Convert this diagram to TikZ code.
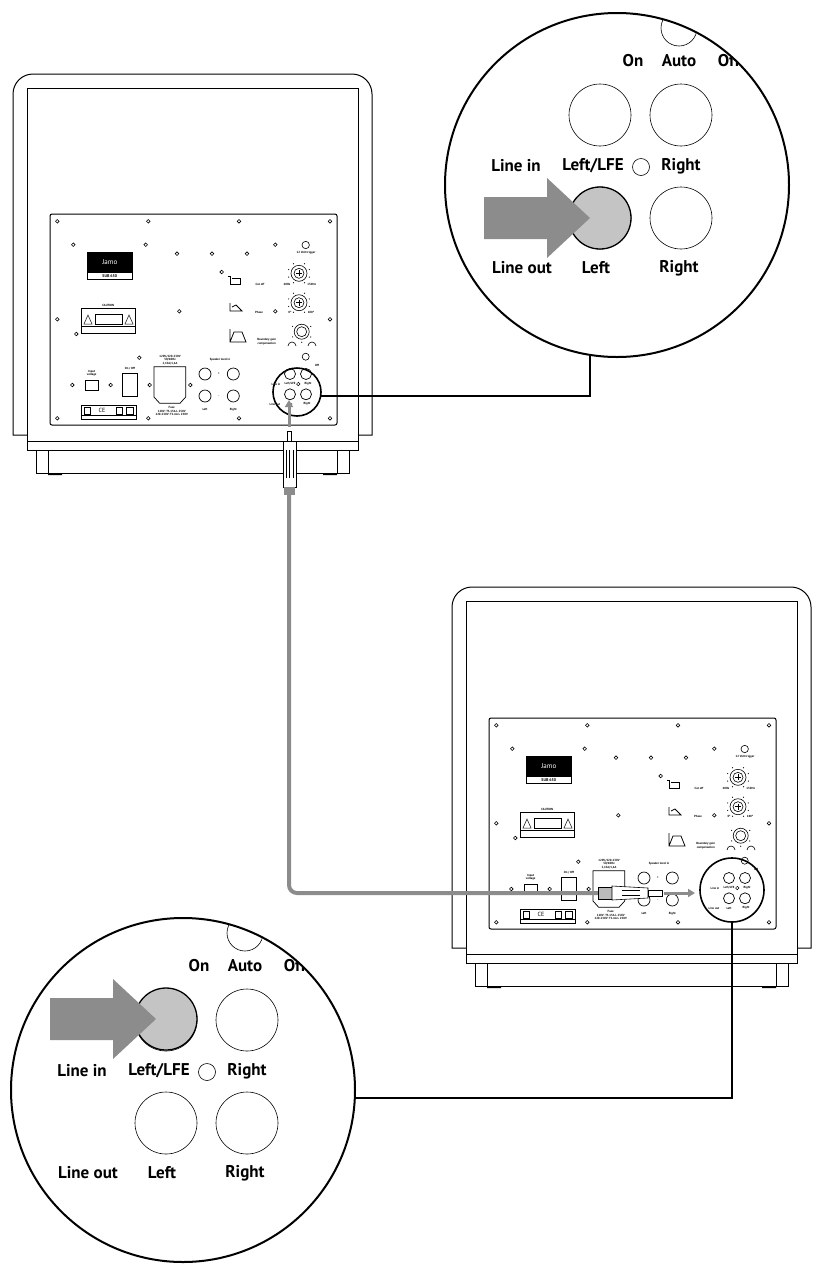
\documentclass[tikz,border=0pt]{standalone}
\usepackage{fontspec}
\setmainfont{PT Sans}
\usetikzlibrary{arrows.meta}
\definecolor{arrowgray}{HTML}{8C8C8C}
\definecolor{jackgray}{HTML}{C4C4C4}
\tikzset{
  screw/.style={draw,line width=0.6pt,fill=white},
  tiny/.style={font=\fontsize{3}{3.5}\selectfont\bfseries,inner sep=0pt,align=center},
  biglbl/.style={font=\fontsize{17}{19}\selectfont\bfseries,inner sep=0pt},
  bigjack/.style={draw,line width=0.6pt,fill=white},
  cab/.style={line width=1pt},
  lead/.style={line width=1.6pt},
  cable/.style={line width=4pt,arrowgray,rounded corners=8pt},
}
\newcommand\subpanel[1]{%
\begin{scope}[shift={#1}]
  \draw[line width=1pt,rounded corners=2pt,fill=white] (0,0) rectangle (287,211);
  \foreach \p in {(7.3,7.3),(98.3,7.3),(189,7.3),(280,7.3),(23.3,30.7),(95.7,30.7),(225.3,30.7),
    (127,39.7),(162,39.7),(197,39.7),(7.3,105.3),(129.3,97.3),(225.3,97.3),(280,105.3),(26.3,120),
    (89.3,143.7),(22.3,171),(60.7,171),(99.7,171),(140.3,171),(7.3,204.3),(98.3,204.3),(189,204.3),(280,204.3),(171.7,58)}
    \draw[screw] \p circle (1.8);
  % jamo label
  \draw[line width=0.7pt,fill=black] (37.3,38.7) rectangle (82.3,58.3);
  \draw[line width=0.7pt] (37.3,58.3) rectangle (82.3,65);
  \node[text=white,font=\fontsize{7}{8}\selectfont,inner sep=0pt] (jm) at (59.8,48.5) {Jamo};
  \node[tiny,font=\fontsize{4}{5}\selectfont\bfseries] (sb) at (59.8,61.7) {SUB 650};
  % 12V trigger
  \draw[line width=0.6pt] (255.7,31) circle (3.7);
  \node[tiny] (tv) at (256,38.7) {12 Volt trigger};
  % knobs
  \foreach \y in {59.3,88.7}{
    \draw[line width=0.6pt] (249,\y) circle (8);
    \draw[line width=0.6pt] (249,\y) circle (5);
    \draw[line width=0.5pt] (246,\y) -- (252,\y) (249,\y-3) -- (249,\y+3);
    \foreach \a in {-60,-20,20,60,120,160,200,240} \fill (249,\y)++(\a:11) circle (0.6);
  }
  \draw[line width=0.6pt] (251.7,117.7) circle (7.5);
  \draw[line width=0.6pt] (251.7,117.7) circle (5);
  \foreach \a in {-30,30,150,210,90} \fill (251.7,117.7)++(\a:10.5) circle (0.6);
  \draw[line width=0.6pt] (238,132) arc (180:360:4) (258,132) arc (180:360:4);
  \node[tiny] (f1) at (237,70) {40Hz};
  \node[tiny] (f2) at (261.7,70) {150Hz};
  \node[tiny] (co) at (210,70) {Cut off};
  \node[tiny] (ph) at (209,98.3) {Phase};
  \node[tiny] (p0) at (240,98.3) {0°};
  \node[tiny] (p1) at (261,98.3) {180°};
  \node[tiny] (bg) at (216.7,127.7) {Boundary gain\\compensation};
  % graph icons
  \draw[line width=0.8pt] (178,62) -- (180,62) -- (180,70) -- (190,70) -- (190,64) -- (182,64);
  \draw[line width=0.8pt] (180,89) -- (180,97) -- (192,97) -- (186,91) -- (182,93);
  \draw[line width=0.8pt] (180,115) -- (180,128) -- (196,128) -- (192,118) -- (184,118) -- (180,128);
  % caution label
  \node[tiny] (ca) at (58.3,91) {CAUTION};
  \draw[line width=0.5pt] (31.7,94.3) rectangle (85,119.3);
  \draw[line width=0.4pt] (31.7,112) -- (85,112) (45,100) rectangle (72,110);
  \draw[line width=0.5pt] (34,110) -- (38,101) -- (42,110) -- cycle (75,110) -- (79,101) -- (83,110) -- cycle;
  % input voltage
  \node[tiny] (iv) at (41.7,159.3) {Input\\voltage};
  \draw[line width=0.7pt] (35,166) rectangle (48.3,176.7);
  \node[tiny] (oo) at (80,155) {On / Off};
  \draw[line width=0.7pt] (72.7,159.3) rectangle (87.3,182.7);
  % IEC
  \node[tiny] (iec) at (120,146) {120V/220-230V~\\50/60Hz\\2,15A/1,6A};
  \draw[line width=0.7pt] (104,152.7) -- (135.7,152.7) -- (135.7,183) -- (130,189.3) -- (109.7,189.3) -- (104,183) -- cycle;
  \node[tiny] (fu) at (121.7,197) {Fuse\\120V: T3.15A L 250V\\220-230V: T1.6A L 250V};
  % speaker level in
  \node[tiny] (sl) at (170,146) {Speaker level in};
  \foreach \p in {(155,160),(183.3,160),(155,182),(183.3,182)} \draw[line width=0.7pt] \p circle (6);
  \node[tiny] at (169,160) {+};
  \node[tiny] at (169,182) {-};
  \node[tiny] (sll) at (155,195.3) {Left};
  \node[tiny] (slr) at (183.3,195.3) {Right};
  % line jacks
  \draw[line width=0.6pt] (255.7,142.7) circle (3.5);
  \node[tiny] at (267,151) {Off};
  \foreach \p in {(240,160),(256,160),(240,180.3),(256,180.3)} \draw[line width=0.7pt] \p circle (5.5);
  \draw[line width=0.5pt] (248.3,170) circle (1.7);
  \node[tiny] at (226,170) {Line in};
  \node[tiny] at (240,170) {Left/LFE};
  \node[tiny] at (258,170) {Right};
  \node[tiny] at (225,190) {Line out};
  \node[tiny] at (240,190) {Left};
  \node[tiny] at (257,190) {Right};
  % regulatory
  \draw[line width=0.7pt] (31,191) rectangle (86.7,205.3);
  \draw[line width=0.5pt] (31,201.5) -- (86.7,201.5);
  \node[tiny,font=\fontsize{6}{6}\selectfont] at (52,196) {CE};
  \draw[line width=0.5pt] (34,193) rectangle (40,200) (66,193) rectangle (72,200) (76,193) rectangle (83,200);
\end{scope}}
\newcommand\subcab[1]{%
\begin{scope}[shift={#1}]
  \draw[cab] (358,435) -- (372,435) {[rounded corners=20pt] -- (372,74) -- (13,74)} -- (13,435) -- (27,435);
  \draw[cab] (27,88) rectangle (358,441);
  \draw[cab] (27,441) rectangle (358,450);
  \draw[cab] (36,450) rectangle (349,473);
  \draw[cab] (48,450) -- (48,473) (337,450) -- (337,473);
  \fill (48,473) rectangle (62,475) (323,473) rectangle (337,475);
\end{scope}}
\newcommand\zoomcircle[2]{% center, y of gray jack
\begin{scope}[shift={#1}]
  \draw[line width=2pt,fill=white] (0,0) circle (172);
  \begin{scope}
    \clip (0,0) circle (171);
    \draw[line width=0.6pt] (62,-157) circle (18);
    \node[biglbl] at (16,-124) {On};
    \node[biglbl] at (62,-124) {Auto};
    \node[biglbl] at (112,-124) {Off};
  \end{scope}
  \draw[bigjack] (-17,-70) circle (31);
  \draw[bigjack] (64,-70) circle (31);
  \draw[bigjack] (-17,33) circle (31);
  \draw[bigjack] (64,33) circle (31);
  \draw[line width=0.6pt] (24,-18) circle (8.5);
  \node[biglbl] at (-101,-19) {Line in};
  \node[biglbl] at (-24,-19) {Left/LFE};
  \node[biglbl] at (64,-19) {Right};
  \node[biglbl] at (-95,83) {Line out};
  \node[biglbl] at (-21,83) {Left};
  \node[biglbl] at (62,83) {Right};
  \draw[line width=1.3pt,fill=jackgray] (-17,#2) circle (31);
  \fill[arrowgray] (-133,#2-21) -- (-70,#2-21) -- (-70,#2-40) -- (-27,#2) -- (-70,#2+40) -- (-70,#2+21) -- (-133,#2+21) -- cycle;
\end{scope}}
\begin{document}
\begin{tikzpicture}[x=1pt,y=-1pt]
\useasboundingbox (0,0) rectangle (826,1267);
% top speaker
\subcab{(0,0)}
\subpanel{(50,214)}
\draw[lead] (297,392) circle (24);
% bottom speaker
\subcab{(439,513)}
\subpanel{(489,718)}
\draw[lead] (732,890) circle (32);
% cable
\draw[cable] (289,495) -- (289,893) -- (598,893);
% top plug
\draw[line width=3pt,arrowgray,-{Triangle[width=8pt,length=7pt]}] (289,427) -- (289,400);
\draw[line width=0.6pt,fill=white] (287,431) rectangle (291,441);
\draw[line width=0.6pt,fill=white] (283,441) rectangle (296,487);
\draw[line width=0.5pt] (286,450) -- (286,478) (289,450) -- (289,478) (293,450) -- (293,478);
\fill[arrowgray] (284,487) rectangle (295,495);
% bottom plug
\draw[line width=0.6pt,fill=arrowgray!60] (598,887) rectangle (612,899);
\draw[line width=0.6pt,fill=white] (612,886) -- (648,888) -- (648,898) -- (612,900) -- cycle;
\draw[line width=0.5pt] (622,890.5) -- (640,890.5) (622,895.5) -- (640,895.5);
\draw[line width=0.6pt,fill=white] (648,890) rectangle (662,896);
\draw[line width=3pt,arrowgray,-{Triangle[width=8pt,length=7pt]}] (664,893) -- (695,893);
% zoom circles
\zoomcircle{(617,185)}{33}
\zoomcircle{(183,1090)}{-71}
% leaders
\coordinate (t1) at (590,396);
\draw[lead] (321,396) -- (t1) -- (590,355);
\coordinate (b1) at (732,1098);
\draw[lead] (732,922) -- (b1) -- (355,1098);
\end{tikzpicture}
\end{document}
